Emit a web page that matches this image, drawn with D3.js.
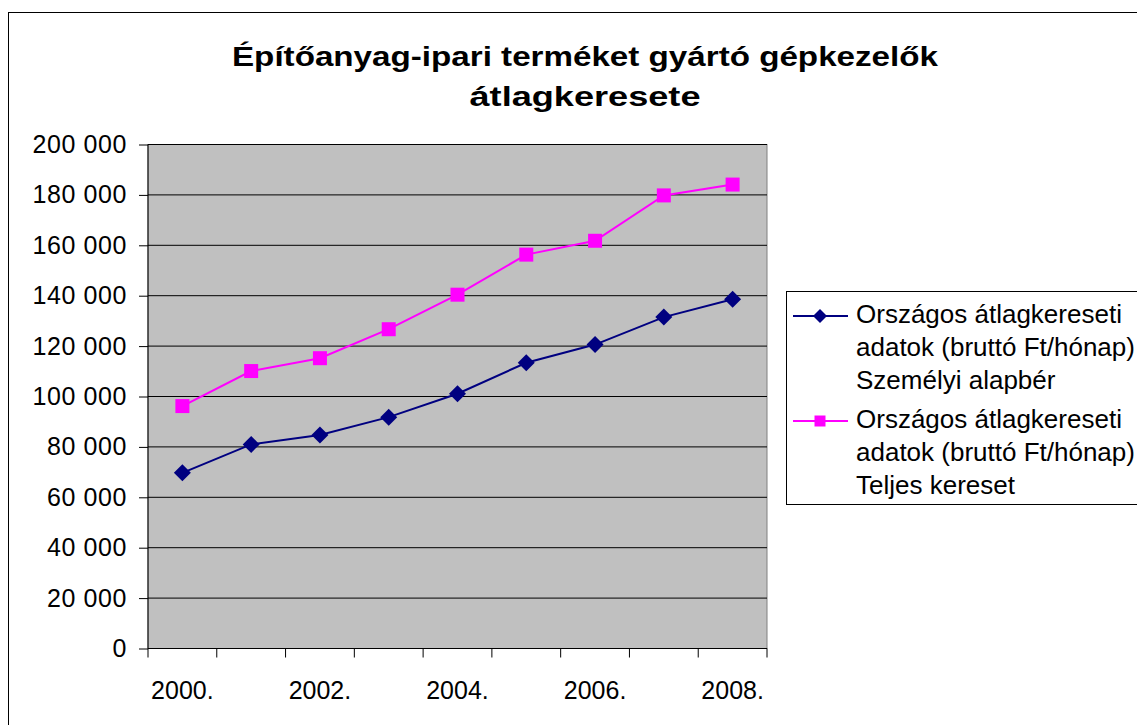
<!DOCTYPE html>
<html>
<head>
<meta charset="utf-8">
<script src="https://cdn.jsdelivr.net/npm/d3@7"></script>
<style>
  body { margin: 0; background: #fff; }
  svg { display: block; font-family: "Liberation Sans", Arial, sans-serif; }
</style>
</head>
<body>
<svg id="chart"></svg>
<script>
// years on the x axis, every other one gets a label
var years = ["2000", "2001", "2002", "2003", "2004", "2005", "2006", "2007", "2008"]
var labelYears = ["2000", "2002", "2004", "2006", "2008"]

// Személyi alapbér
var alapber = [69700, 81000, 84700, 91800, 101100, 113400, 120600, 131500, 138600]
// Teljes kereset
var kereset = [96200, 110100, 115200, 126700, 140400, 156300, 161800, 179800, 184100]

var yTicks = [0, 20000, 40000, 60000, 80000, 100000, 120000, 140000, 160000, 180000, 200000]

var titleLines = ["Építőanyag-ipari terméket gyártó gépkezelők", "átlagkeresete"]
var seriesNames = [
    ["Országos átlagkereseti", "adatok (bruttó Ft/hónap)", "Személyi alapbér"],
    ["Országos átlagkereseti", "adatok (bruttó Ft/hónap)", "Teljes kereset"]
]

var dimensions = {
    width: 1137,
    height: 725,
    margin: { top: 144.5, bottom: 76.5, left: 148, right: 370 }
}

var svg = d3.select("#chart")
            .attr("width", dimensions.width)
            .attr("height", dimensions.height)

// outer chart border (right and bottom run off the picture)
svg.append("rect")
    .attr("x", 8.5).attr("y", 12.5)
    .attr("width", 1140).attr("height", 730)
    .attr("fill", "#fff").attr("stroke", "#000").attr("stroke-width", 1)

var x0 = dimensions.margin.left
var x1 = dimensions.width - dimensions.margin.right
var y0 = dimensions.height - dimensions.margin.bottom
var y1 = dimensions.margin.top

var xScale = d3.scaleBand().domain(years).range([x0, x1])
var yScale = d3.scaleLinear().domain([0, 200000]).range([y0, y1])

var huLocale = d3.formatLocale({ decimal: ",", thousands: " ", grouping: [3], currency: ["", ""] })
var fmt = huLocale.format(",")

// excel style diamond = square turned 45 degrees
function diamond(r) {
    return `M0,${-r}L${r},0L0,${r}L${-r},0Z`
}
function square(r) {
    return `M${-r},${-r}H${r}V${r}H${-r}Z`
}

// plot area
svg.append("rect")
    .attr("x", x0).attr("y", y1)
    .attr("width", x1 - x0).attr("height", y0 - y1)
    .attr("fill", "#c0c0c0")
    .attr("stroke", "#808080").attr("stroke-width", 1)

// gridlines
svg.append("g")
    .selectAll("line")
    .data(yTicks.filter(d => d > 0))
    .enter().append("line")
    .attr("x1", x0).attr("x2", x1)
    .attr("y1", d => yScale(d)).attr("y2", d => yScale(d))
    .attr("stroke", "#000").attr("stroke-width", 1)

// y axis
var yAxis = svg.append("g")
    .attr("transform", `translate(${x0},0)`)
    .call(d3.axisLeft(yScale).tickValues(yTicks).tickFormat(fmt).tickSize(9).tickPadding(12))
yAxis.select(".domain").attr("stroke", "#000").attr("d", `M0,${y1}V${y0}`)
yAxis.selectAll("text")
    .attr("font-size", 25).attr("fill", "#000")
    .attr("font-family", "Liberation Sans, Arial, sans-serif")
    .attr("letter-spacing", 0.6)

// x axis - ticks sit on band edges, labels in band centres
var xAxis = svg.append("g").attr("transform", `translate(0,${y0})`)
xAxis.append("line").attr("x1", x0).attr("x2", x1).attr("stroke", "#000")
xAxis.selectAll(".tick")
    .data(years.map(d => xScale(d)).concat([x1]))
    .enter().append("line")
    .attr("x1", d => d).attr("x2", d => d)
    .attr("y1", 0).attr("y2", 9)
    .attr("stroke", "#000")
xAxis.selectAll("text")
    .data(labelYears)
    .enter().append("text")
    .attr("x", d => xScale(d) + xScale.bandwidth() / 2)
    .attr("y", 50)
    .attr("text-anchor", "middle")
    .attr("font-size", 25)
    .text(d => d + ".")

var line = d3.line()
    .x((d, i) => xScale(years[i]) + xScale.bandwidth() / 2)
    .y(d => yScale(d))

var series = [
    { values: alapber, color: "#000080", shape: diamond, r: 8.5 },
    { values: kereset, color: "#ff00ff", shape: square, r: 7 }
]

series.forEach(function(s) {
    svg.append("path")
        .datum(s.values)
        .attr("fill", "none")
        .attr("stroke", s.color)
        .attr("stroke-width", 2)
        .attr("d", line)

    svg.append("g")
        .selectAll("path")
        .data(s.values)
        .enter().append("path")
        .attr("transform", (d, i) => `translate(${xScale(years[i]) + xScale.bandwidth() / 2},${yScale(d)})`)
        .attr("d", s.shape(s.r))
        .attr("fill", s.color)
})

// title - glyphs stretched a bit, the excel original renders wide
var titleWidths = [706, 231]
svg.append("g")
    .selectAll("text")
    .data(titleLines)
    .enter().append("text")
    .attr("x", 585)
    .attr("y", (d, i) => 66 + i * 40)
    .attr("text-anchor", "middle")
    .attr("font-size", 27).attr("font-weight", "bold")
    .attr("textLength", (d, i) => titleWidths[i])
    .attr("lengthAdjust", "spacingAndGlyphs")
    .text(d => d)

// legend
var legend = svg.append("g")
legend.append("rect")
    .attr("x", 786.5).attr("y", 291.5)
    .attr("width", 360).attr("height", 213)
    .attr("fill", "#fff").attr("stroke", "#000")

var legendTop = [323, 428]
series.forEach(function(s, k) {
    var my = legendTop[k] - 7
    legend.append("line")
        .attr("x1", 793).attr("x2", 848)
        .attr("y1", my).attr("y2", my)
        .attr("stroke", s.color).attr("stroke-width", 2)
    legend.append("path")
        .attr("transform", `translate(820,${my})`)
        .attr("d", s.shape(s.r - 1.5))
        .attr("fill", s.color)
    legend.append("text")
        .attr("font-size", 26)
        .selectAll("tspan")
        .data(seriesNames[k])
        .enter().append("tspan")
        .attr("x", 856)
        .attr("y", (d, i) => legendTop[k] + i * 33)
        .text(d => d)
})
</script>
</body>
</html>
